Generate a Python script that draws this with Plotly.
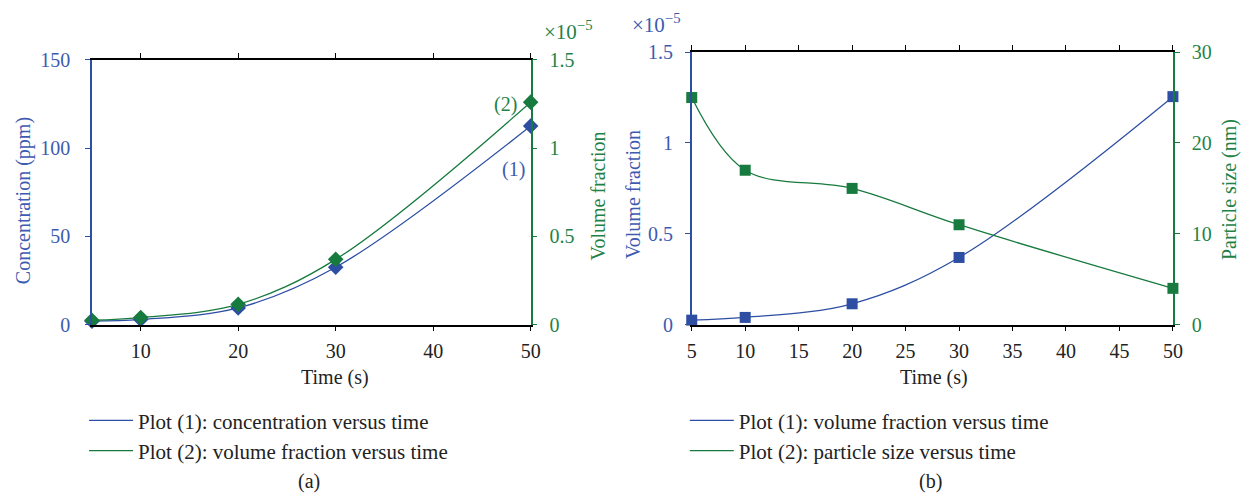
import plotly.graph_objects as go

# ---------------- data ----------------
time_a = [5, 10, 20, 30, 50]
concentration_ppm = [2, 3, 9.5, 32.5, 112.5]
volume_fraction_a = [0.025, 0.04, 0.115, 0.37, 1.26]   # x 1e-5

time_b = [5, 10, 20, 30, 50]
volume_fraction_b = [0.025, 0.04, 0.115, 0.37, 1.255]  # x 1e-5
particle_size_nm = [25, 17, 15, 11, 4]

x_ticks_a = [10, 20, 30, 40, 50]
x_ticks_b = [5, 10, 15, 20, 25, 30, 35, 40, 45, 50]
conc_ticks = [0, 50, 100, 150]
vf_ticks = [0, 0.5, 1, 1.5]
vf_tick_text = ["0", "0.5", "1", "1.5"]
size_ticks = [0, 10, 20, 30]

legend_a = ["Plot (1): concentration versus time", "Plot (2): volume fraction versus time"]
legend_b = ["Plot (1): volume fraction versus time", "Plot (2): particle size versus time"]

# ---------------- style ----------------
FONT = "Liberation Serif"
BLUE = "#2d4ea3"
GREEN = "#177a3e"
BLUE_TXT = "#3d5bb0"
GREEN_TXT = "#1f8246"
TXT = "#222222"
W, H = 1260, 504

def px_x(p):
    return p / W

def px_y(p):
    return 1 - p / H

fig = go.Figure()

# ---- panel (a) ----
fig.add_trace(go.Scatter(x=time_a, y=concentration_ppm, mode="lines",
                         line=dict(color=BLUE, width=1.3, shape="spline", smoothing=1.0),
                         name=legend_a[0], legend="legend", xaxis="x", yaxis="y"))
fig.add_trace(go.Scatter(x=time_a, y=concentration_ppm, mode="markers",
                         marker=dict(symbol="diamond", size=12, color=BLUE),
                         showlegend=False, cliponaxis=False, xaxis="x", yaxis="y"))
fig.add_trace(go.Scatter(x=time_a, y=volume_fraction_a, mode="lines",
                         line=dict(color=GREEN, width=1.3, shape="spline", smoothing=1.0),
                         name=legend_a[1], legend="legend", xaxis="x", yaxis="y2"))
fig.add_trace(go.Scatter(x=time_a, y=volume_fraction_a, mode="markers",
                         marker=dict(symbol="diamond", size=12, color=GREEN),
                         showlegend=False, cliponaxis=False, xaxis="x", yaxis="y2"))

# ---- panel (b) ----
fig.add_trace(go.Scatter(x=time_b, y=volume_fraction_b, mode="lines",
                         line=dict(color=BLUE, width=1.3, shape="spline", smoothing=1.0),
                         name=legend_b[0], legend="legend2", xaxis="x2", yaxis="y3"))
fig.add_trace(go.Scatter(x=time_b, y=volume_fraction_b, mode="markers",
                         marker=dict(symbol="square", size=11, color=BLUE),
                         showlegend=False, cliponaxis=False, xaxis="x2", yaxis="y3"))
fig.add_trace(go.Scatter(x=time_b, y=particle_size_nm, mode="lines",
                         line=dict(color=GREEN, width=1.3, shape="spline", smoothing=1.0),
                         name=legend_b[1], legend="legend2", xaxis="x2", yaxis="y4"))
fig.add_trace(go.Scatter(x=time_b, y=particle_size_nm, mode="markers",
                         marker=dict(symbol="square", size=11, color=GREEN),
                         showlegend=False, cliponaxis=False, xaxis="x2", yaxis="y4"))

common = dict(showgrid=False, zeroline=False, ticks="outside", ticklen=5, tickwidth=1,
              showline=True, linewidth=1.5)

dom_y_a = [px_y(328), px_y(51)]
dom_y_b = [px_y(328), px_y(43)]

fig.update_layout(
    width=W, height=H, autosize=False,
    margin=dict(l=0, r=0, t=0, b=0),
    paper_bgcolor="white", plot_bgcolor="white",
    font=dict(family=FONT, size=20, color=TXT),
    xaxis=dict(domain=[px_x(88), px_x(532)], range=[5, 50], tickvals=x_ticks_a,
               anchor="y", linecolor="black", tickcolor="black", mirror="ticks",
               ticklabelstandoff=3, tickfont=dict(color=TXT, size=20), **common),
    yaxis=dict(domain=dom_y_a, range=[0, 150], tickvals=conc_ticks, anchor="x",
               side="left", linecolor=BLUE, tickcolor=BLUE, ticklabelstandoff=11,
               tickfont=dict(color=BLUE_TXT, size=20), **common),
    yaxis2=dict(range=[0, 1.5], tickvals=vf_ticks, ticktext=vf_tick_text,
                overlaying="y", anchor="x", side="right", linecolor=GREEN, tickcolor=GREEN,
                ticklabelstandoff=8, tickfont=dict(color=GREEN_TXT, size=20), **common),
    xaxis2=dict(domain=[px_x(695), px_x(1182)], range=[5, 50], tickvals=x_ticks_b,
                anchor="y3", linecolor="black", tickcolor="black", mirror="ticks",
                ticklabelstandoff=3, tickfont=dict(color=TXT, size=20), **common),
    yaxis3=dict(domain=dom_y_b, range=[0, 1.5], tickvals=vf_ticks, ticktext=vf_tick_text,
                anchor="x2", side="left", linecolor=BLUE, tickcolor=BLUE, ticklabelstandoff=8,
                tickfont=dict(color=BLUE_TXT, size=20), **common),
    yaxis4=dict(range=[0, 30], tickvals=size_ticks, overlaying="y3", anchor="x2",
                side="right", linecolor=GREEN, tickcolor=GREEN, ticklabelstandoff=8,
                tickfont=dict(color=GREEN_TXT, size=20), **common),
    legend=dict(x=px_x(80), y=px_y(407), xanchor="left", yanchor="top",
                bgcolor="rgba(0,0,0,0)", font=dict(family=FONT, size=21, color=TXT),
                tracegroupgap=0, itemwidth=44),
    legend2=dict(x=px_x(688), y=px_y(407), xanchor="left", yanchor="top",
                 bgcolor="rgba(0,0,0,0)", font=dict(family=FONT, size=21, color=TXT),
                 tracegroupgap=0, itemwidth=44),
)

ann = []
# axis titles
ann.append(dict(text="Time (s)", x=px_x(334), y=px_y(383), xref="paper", yref="paper",
                showarrow=False, font=dict(size=20, color=TXT), xanchor="center", yanchor="middle"))
ann.append(dict(text="Time (s)", x=px_x(940), y=px_y(383), xref="paper", yref="paper",
                showarrow=False, font=dict(size=20, color=TXT), xanchor="center", yanchor="middle"))
ann.append(dict(text="Concentration (ppm)", x=px_x(19), y=px_y(198), xref="paper", yref="paper",
                textangle=-90, showarrow=False, font=dict(size=20, color=BLUE_TXT),
                xanchor="center", yanchor="middle"))
ann.append(dict(text="Volume fraction", x=px_x(600), y=px_y(193), xref="paper", yref="paper",
                textangle=-90, showarrow=False, font=dict(size=20, color=GREEN_TXT),
                xanchor="center", yanchor="middle"))
ann.append(dict(text="Volume fraction", x=px_x(635), y=px_y(192), xref="paper", yref="paper",
                textangle=-90, showarrow=False, font=dict(size=20, color=BLUE_TXT),
                xanchor="center", yanchor="middle"))
ann.append(dict(text="Particle size (nm)", x=px_x(1240), y=px_y(187), xref="paper", yref="paper",
                textangle=-90, showarrow=False, font=dict(size=20, color=GREEN_TXT),
                xanchor="center", yanchor="middle"))
# exponent labels
ann.append(dict(text="\u00d710<sup>\u22125</sup>", x=px_x(543), y=px_y(20), xref="paper", yref="paper",
                showarrow=False, font=dict(size=21, color=GREEN_TXT), xanchor="left", yanchor="middle"))
ann.append(dict(text="\u00d710<sup>\u22125</sup>", x=px_x(633), y=px_y(13), xref="paper", yref="paper",
                showarrow=False, font=dict(size=21, color=BLUE_TXT), xanchor="left", yanchor="middle"))
# curve labels
ann.append(dict(text="(2)", x=px_x(507), y=px_y(98), xref="paper", yref="paper",
                showarrow=False, font=dict(size=20, color=GREEN_TXT), xanchor="center", yanchor="middle"))
ann.append(dict(text="(1)", x=px_x(515), y=px_y(166), xref="paper", yref="paper",
                showarrow=False, font=dict(size=20, color=BLUE_TXT), xanchor="center", yanchor="middle"))
# captions
ann.append(dict(text="(a)", x=px_x(308), y=px_y(492), xref="paper", yref="paper",
                showarrow=False, font=dict(size=20, color=TXT), xanchor="center", yanchor="middle"))
ann.append(dict(text="(b)", x=px_x(937), y=px_y(492), xref="paper", yref="paper",
                showarrow=False, font=dict(size=20, color=TXT), xanchor="center", yanchor="middle"))
fig.update_layout(annotations=ann)

fig.write_html("out.html")
